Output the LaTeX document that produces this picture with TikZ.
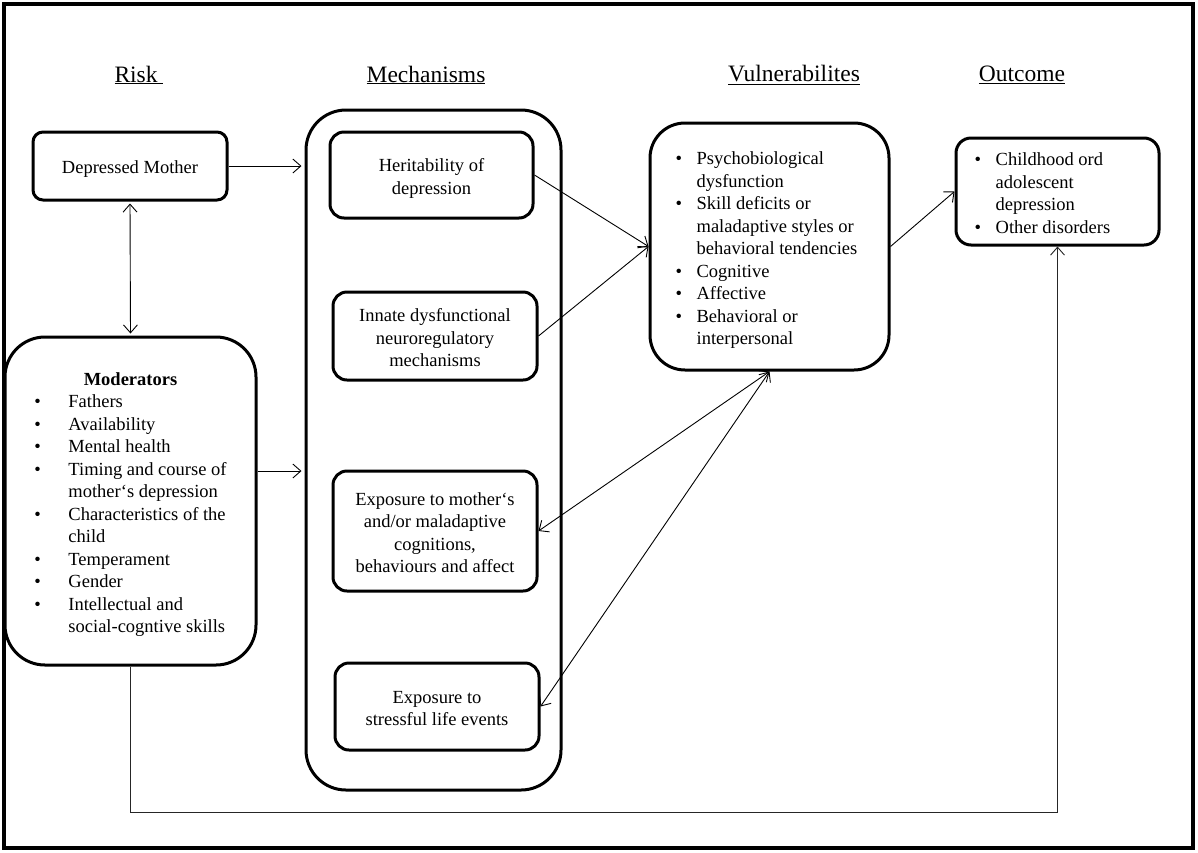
\documentclass[tikz,border=0pt]{standalone}
\usepackage{fontspec}
\setmainfont{Liberation Serif}
\usetikzlibrary{arrows.meta}
\newcommand{\dnbox}[1]{\raisebox{-3.5pt}[\height][\depth]{#1}}
\tikzset{
  txt/.style={font=\fontsize{18.5}{22.5}\selectfont},
  head/.style={font=\fontsize{23.5}{28}\selectfont},
  sbox/.style={draw, line width=3pt, rounded corners=#1, txt, align=center, inner sep=0pt},
  sbox/.default=14pt,
  conn/.style={line width=0.9pt, -{Straight Barb[length=8pt,width=14pt]}},
  bconn/.style={line width=0.9pt, {Straight Barb[length=8pt,width=14pt]}-{Straight Barb[length=8pt,width=14pt]}},
}
\begin{document}
\begin{tikzpicture}[x=1pt,y=-1pt]
\useasboundingbox (0,0) rectangle (1198,852);
\draw[line width=4pt] (4,4) rectangle (1193,848);

% headings
\node[head] (hrisk) at (139,75) {\underline{Risk\ }};
\node[head] (hmech) at (426,75) {\underline{Mechanisms}};
\node[head] (hvul) at (794,75) {\underline{Vulnerabilites}};
\node[head] (hout) at (1022,75) {\underline{Outcome}};

% risk column
\node[sbox=10pt, minimum width=194pt, minimum height=68pt] (dm) at (130,166) {\dnbox{Depressed Mother}};
\node[sbox=40pt, minimum width=251pt, minimum height=328pt] (mod) at (130.5,501) {\dnbox{%
\begin{tabular}{@{}p{34pt}@{}l@{}}
\multicolumn{2}{c}{\textbf{Moderators}}\\
\textbullet & Fathers\\
\textbullet & Availability\\
\textbullet & Mental health\\
\textbullet & Timing and course of\\
 & mother‘s depression\\
\textbullet & Characteristics of the\\
 & child\\
\textbullet & Temperament\\
\textbullet & Gender\\
\textbullet & Intellectual and\\
 & social-cogntive skills
\end{tabular}}};

% mechanisms
\node[sbox=40pt, minimum width=255pt, minimum height=680pt] (mech) at (433.5,450) {};
\node[sbox, minimum width=203pt, minimum height=86pt] (her) at (431.5,175) {\dnbox{\begin{tabular}{@{}c@{}}Heritability of\\depression\end{tabular}}};
\node[sbox, minimum width=204pt, minimum height=88pt] (inn) at (435,336) {\dnbox{\begin{tabular}{@{}c@{}}Innate dysfunctional\\neuroregulatory\\mechanisms\end{tabular}}};
\node[sbox, minimum width=204pt, minimum height=120pt] (expm) at (435,531) {\dnbox{\begin{tabular}{@{}c@{}}Exposure to mother‘s\\and/or maladaptive\\cognitions,\\behaviours and affect\end{tabular}}};
\node[sbox, minimum width=204pt, minimum height=87pt] (exps) at (437,706.5) {\dnbox{\begin{tabular}{@{}c@{}}Exposure to\\stressful life events\end{tabular}}};

% vulnerabilities
\node[sbox=35pt, minimum width=239pt, minimum height=247pt] (vul) at (769.5,246.5) {\dnbox{%
\begin{tabular}{@{}p{21pt}@{}l@{}}
\textbullet & Psychobiological\\
 & dysfunction\\
\textbullet & Skill deficits or\\
 & maladaptive styles or\\
 & behavioral tendencies\\
\textbullet & Cognitive\\
\textbullet & Affective\\
\textbullet & Behavioral or\\
 & interpersonal
\end{tabular}}\hspace{6pt}};

% outcome
\node[sbox=15pt, minimum width=203pt, minimum height=107pt] (out) at (1057.5,191.5) {\dnbox{%
\begin{tabular}{@{}p{21pt}@{}l@{}}
\textbullet & Childhood ord\\
 & adolescent\\
 & depression\\
\textbullet & Other disorders
\end{tabular}}\hspace{30pt}};

% connectors
\draw[conn, shorten >=3pt] (dm.east) -- (dm.east -| mech.west);
\draw[bconn, shorten <=2pt, shorten >=2pt] (dm.south) -- (mod.north);
\draw[conn, shorten >=3pt] ([yshift=30pt]mod.east) -- ([yshift=30pt]mod.east -| mech.west);
\draw[conn] (her.east) -- (vul.west);
\draw[conn] (inn.east) -- (vul.west);
\draw[bconn] (vul.south) -- (expm.east);
\draw[bconn] (vul.south) -- (exps.east);
\draw[conn] (vul.east) -- (out.west);
\coordinate (bl) at (mod.south |- 0,812);
\draw[conn, draw=black!85] (mod.south) -- (bl) -| (out.south);
\end{tikzpicture}
\end{document}
